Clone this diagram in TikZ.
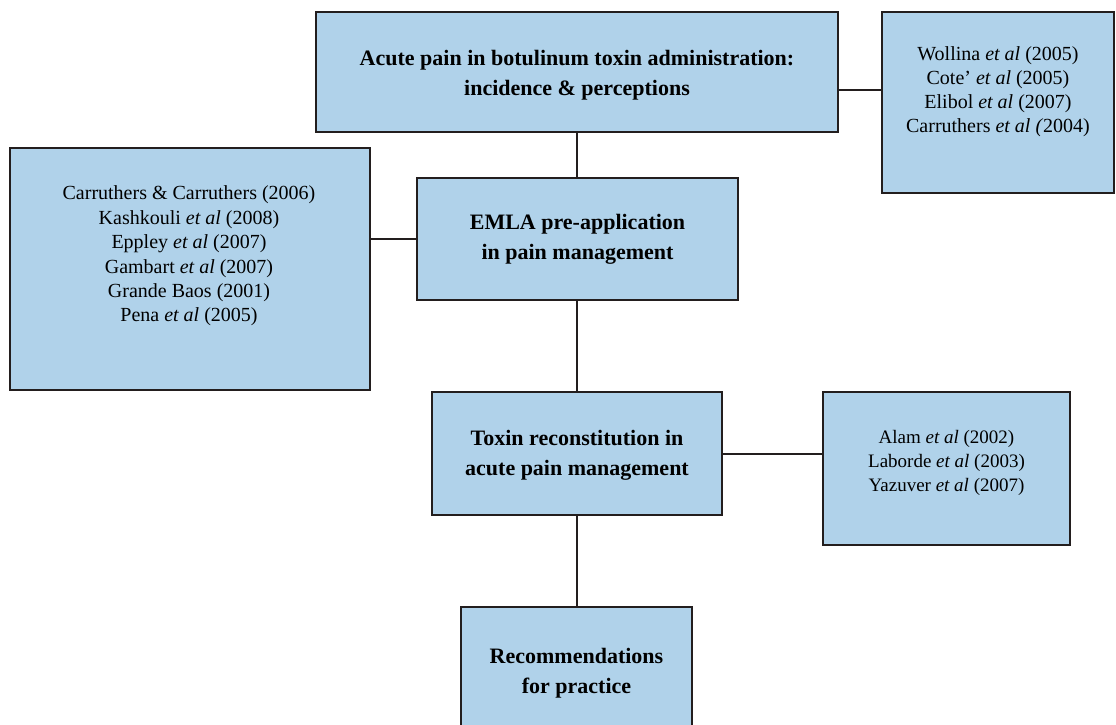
\documentclass[tikz,border=0pt]{standalone}
\usepackage{fontspec}
\setmainfont{Liberation Serif}
\definecolor{boxblue}{RGB}{176,210,234}
\definecolor{edge}{RGB}{35,30,30}
\begin{document}
\begin{tikzpicture}[x=1pt,y=-1pt,
  box/.style={draw=edge, line width=1.5pt, fill=boxblue, inner sep=0pt},
  head/.style={font=\fontsize{22}{30}\selectfont\bfseries, align=center, inner sep=0pt},
  refl/.style={font=\fontsize{20}{24.4}\selectfont, align=center, inner sep=0pt},
  refr/.style={font=\fontsize{20}{24}\selectfont, align=center, inner sep=0pt},
  refm/.style={font=\fontsize{19}{24}\selectfont, align=center, inner sep=0pt},
  link/.style={draw=edge, line width=1.5pt}]
\useasboundingbox (0,0) rectangle (1116,725);
% boxes
\node[box, minimum width=522pt, minimum height=120pt] (top) at (577,72) {};
\node[box, minimum width=232pt, minimum height=181pt] (tr) at (998,102.5) {};
\node[box, minimum width=360pt, minimum height=242pt] (lft) at (190,269) {};
\node[box, minimum width=321pt, minimum height=122pt] (emla) at (577.5,239) {};
\node[box, minimum width=290pt, minimum height=123pt] (tox) at (577,453.5) {};
\node[box, minimum width=247pt, minimum height=153pt] (rm) at (946.5,468.5) {};
\node[box, minimum width=231pt, minimum height=130pt] (rec) at (576.5,672) {};
% texts
\node[head] (toptxt) at (577,75) {Acute pain in botulinum toxin administration:\\incidence \& perceptions};
\node[head] (emlatxt) at (577.5,239.5) {EMLA pre-application\\in pain management};
\node[head] (toxtxt) at (577,455) {Toxin reconstitution in\\acute pain management};
\node[head] (rectxt) at (576.5,673.5) {Recommendations\\for practice};
\node[refr] (trtxt) at (998,92) {Wollina \textit{et al} (2005)\\Cote' \textit{et al} (2005)\\Elibol \textit{et al} (2007)\\Carruthers \textit{et al (}2004)};
\node[refl] (lfttxt) at (189,256) {Carruthers \& Carruthers (2006)\\Kashkouli \textit{et al} (2008)\\Eppley \textit{et al} (2007)\\Gambart \textit{et al} (2007)\\Grande Baos (2001)\\Pena \textit{et al} (2005)};
\node[refm] (rmtxt) at (946.5,463) {Alam \textit{et al} (2002)\\Laborde \textit{et al} (2003)\\Yazuver \textit{et al} (2007)};
% connectors
\draw[link] (top.south) -- (top.south |- emla.north);
\draw[link] (top.east |- 0,90) -- (tr.west |- 0,90);
\draw[link] (lft.east |- emla.west) -- (emla.west);
\draw[link] (emla.south -| tox.north) -- (tox.north);
\draw[link] (tox.east |- 0,454) -- (rm.west |- 0,454);
\draw[link] (tox.south) -- (tox.south |- rec.north);
\end{tikzpicture}
\end{document}
